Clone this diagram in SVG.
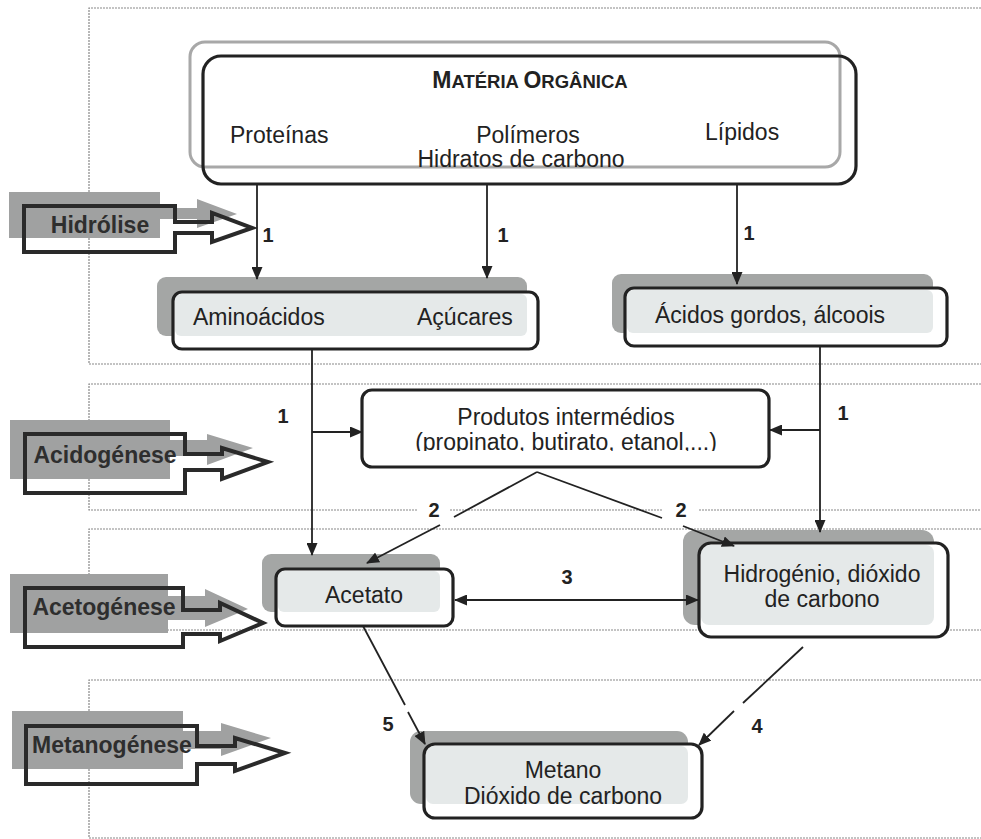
<svg xmlns="http://www.w3.org/2000/svg" width="981" height="839" viewBox="0 0 981 839">
<style>
.frame{fill:none;stroke:#888;stroke-width:1.2;stroke-dasharray:2 1}
.shadowArrow{fill:#a0a1a1}
.outArrow{fill:none;stroke:#2a2a2a;stroke-width:4;stroke-linejoin:miter}
.stage{font-family:"Liberation Sans",Arial,sans-serif;font-weight:bold;font-size:23px;fill:#2e2e2e;text-anchor:middle}
.shadow{fill:#a4a6a5}
.light{fill:#e5e9e9}
.box{fill:none;stroke:#222;stroke-width:3.2}
.t{font-family:"Liberation Sans",Arial,sans-serif;font-size:23px;fill:#222}
.c{text-anchor:middle}
.num{font-family:"Liberation Sans",Arial,sans-serif;font-weight:bold;font-size:20px;fill:#222;text-anchor:middle}
.conn{fill:none;stroke:#222;stroke-width:1.8}
</style>
<defs>
<marker id="ah" markerUnits="userSpaceOnUse" markerWidth="13" markerHeight="11" refX="12" refY="5.5" orient="auto-start-reverse">
<path d="M0,0 L13,5.5 L0,11 z" fill="#222"/>
</marker>
<clipPath id="clipProd"><rect x="356" y="380" width="420" height="71"/></clipPath>
</defs>
<rect x="0" y="0" width="981" height="839" fill="#ffffff"/>

<g id="frames">
<path class="frame" d="M981,8 H89 V364 H981"/>
<path class="frame" d="M981,384 H89 V510 H417 M450,510 H662 M699,510 H981"/>
<path class="frame" d="M981,529 H89 V630 H981"/>
<path class="frame" d="M981,680 H89 V838 H981"/>
</g>

<g id="stage-hidrolise">
<path class="shadowArrow" transform="translate(-15,-14)" d="M24,206 H175 V222 H212 V213 L252,228 L212,242 V233 H175 V252 H24 Z"/>
<text class="stage" x="100" y="233">Hidrólise</text>
<path class="outArrow" d="M24,206 H175 V222 H212 V213 L252,228 L212,242 V233 H175 V252 H24 Z"/>
</g>
<g id="stage-acidogenese">
<path class="shadowArrow" transform="translate(-15,-14)" d="M25,434 H185 V454 H222 V448 L268,462 L222,479 V470 H185 V493 H25 Z"/>
<text class="stage" x="105" y="463">Acidogénese</text>
<path class="outArrow" d="M25,434 H185 V454 H222 V448 L268,462 L222,479 V470 H185 V493 H25 Z"/>
</g>
<g id="stage-acetogenese">
<path class="shadowArrow" transform="translate(-15,-14)" d="M25,588 H183 V610 H220 V603 L263,623 L220,641 V634 H183 V647 H25 Z"/>
<text class="stage" x="104" y="615">Acetogénese</text>
<path class="outArrow" d="M25,588 H183 V610 H220 V603 L263,623 L220,641 V634 H183 V647 H25 Z"/>
</g>
<g id="stage-metanogenese">
<path class="shadowArrow" transform="translate(-14,-15)" d="M26,726 H197 V746 H235 V738 L285,753 L235,771 V764 H197 V784 H26 Z"/>
<text class="stage" x="112" y="753">Metanogénese</text>
<path class="outArrow" d="M26,726 H197 V746 H235 V738 L285,753 L235,771 V764 H197 V784 H26 Z"/>
</g>

<g id="node-materia">
<rect x="190" y="42" width="650" height="125" rx="15" fill="none" stroke="#a8a8a8" stroke-width="3"/>
<rect x="203" y="56" width="653" height="128" rx="18" class="box"/>
<text x="530" y="88" class="c" font-family="'Liberation Sans',Arial,sans-serif" font-weight="bold" fill="#222"><tspan font-size="23">M</tspan><tspan font-size="18.5">ATÉRIA </tspan><tspan font-size="23">O</tspan><tspan font-size="18.5">RGÂNICA</tspan></text>
<text class="t" x="230" y="143">Proteínas</text>
<text class="t c" x="528" y="143">Polímeros</text>
<text class="t c" x="521" y="167">Hidratos de carbono</text>
<text class="t" x="705" y="140">Lípidos</text>
</g>

<g id="node-aminoacidos">
<rect class="shadow" x="157" y="277" width="370" height="59" rx="9"/>
<rect x="173" y="292" width="365" height="57" rx="9" fill="#fff"/>
<rect class="light" x="175" y="294" width="352" height="42" rx="6"/>
<rect class="box" x="173" y="292" width="365" height="57" rx="9"/>
<text class="t" x="193" y="325">Aminoácidos</text>
<text class="t" x="417" y="325">Açúcares</text>
</g>

<g id="node-acidos">
<rect class="shadow" x="612" y="274" width="321" height="59" rx="9"/>
<rect x="625" y="288" width="322" height="58" rx="9" fill="#fff"/>
<rect class="light" x="627" y="290" width="306" height="43" rx="6"/>
<rect class="box" x="625" y="288" width="322" height="58" rx="9"/>
<text class="t c" x="770" y="323">Ácidos gordos, álcoois</text>
</g>

<g id="node-produtos">
<rect x="362" y="390" width="407" height="77" rx="10" fill="#fff" stroke="#222" stroke-width="3.2"/>
<text class="t c" x="566" y="425">Produtos intermédios</text>
<text class="t c" x="566" y="450" clip-path="url(#clipProd)">(propinato, butirato, etanol,...)</text>
</g>

<g id="node-acetato">
<rect class="shadow" x="262" y="554" width="178" height="58" rx="9"/>
<rect x="276" y="569" width="177" height="57" rx="9" fill="#fff"/>
<rect class="light" x="278" y="571" width="162" height="41" rx="6"/>
<rect class="box" x="276" y="569" width="177" height="57" rx="9"/>
<text class="t c" x="364" y="603">Acetato</text>
</g>

<g id="node-hidrogenio">
<rect class="shadow" x="683" y="530" width="251" height="95" rx="12"/>
<rect x="699" y="543" width="249" height="94" rx="12" fill="#fff"/>
<rect class="light" x="701" y="545" width="233" height="80" rx="8"/>
<rect class="box" x="699" y="543" width="249" height="94" rx="12"/>
<text class="t c" x="822" y="582">Hidrogénio, dióxido</text>
<text class="t c" x="822" y="607">de carbono</text>
</g>

<g id="node-metano">
<rect class="shadow" x="410" y="731" width="278" height="73" rx="11"/>
<rect x="424" y="744" width="278" height="74" rx="11" fill="#fff"/>
<rect class="light" x="426" y="746" width="262" height="58" rx="7"/>
<rect class="box" x="424" y="744" width="278" height="74" rx="11"/>
<text class="t c" x="563" y="778">Metano</text>
<text class="t c" x="563" y="804">Dióxido de carbono</text>
</g>

<g id="connectors">
<path class="conn" d="M257,185 V279" marker-end="url(#ah)"/>
<path class="conn" d="M487,185 V278" marker-end="url(#ah)"/>
<path class="conn" d="M737,185 V284" marker-end="url(#ah)"/>
<path class="conn" d="M312,350 V555" marker-end="url(#ah)"/>
<path class="conn" d="M312,432 H362" marker-end="url(#ah)"/>
<path class="conn" d="M820,347 V532" marker-end="url(#ah)"/>
<path class="conn" d="M820,430 H770" marker-end="url(#ah)"/>
<path class="conn" d="M537,472 L454,517"/>
<path class="conn" d="M440,525 L367,563" marker-end="url(#ah)"/>
<path class="conn" d="M537,472 L662,518"/>
<path class="conn" d="M683,526 L734,546" marker-end="url(#ah)"/>
<path class="conn" d="M455,600 H698" marker-start="url(#ah)" marker-end="url(#ah)"/>
<path class="conn" d="M363,626 L405,705"/>
<path class="conn" d="M408,712 L425,744" marker-end="url(#ah)"/>
<path class="conn" d="M803,647 L743,703"/>
<path class="conn" d="M734,711 L699,745" marker-end="url(#ah)"/>
</g>

<g id="labels">
<text class="num" x="268" y="242">1</text>
<text class="num" x="503" y="242">1</text>
<text class="num" x="749" y="240">1</text>
<text class="num" x="283" y="423">1</text>
<text class="num" x="843" y="420">1</text>
<text class="num" x="434" y="517">2</text>
<text class="num" x="681" y="517">2</text>
<text class="num" x="567" y="584">3</text>
<text class="num" x="388" y="731">5</text>
<text class="num" x="757" y="733">4</text>
</g>
</svg>
